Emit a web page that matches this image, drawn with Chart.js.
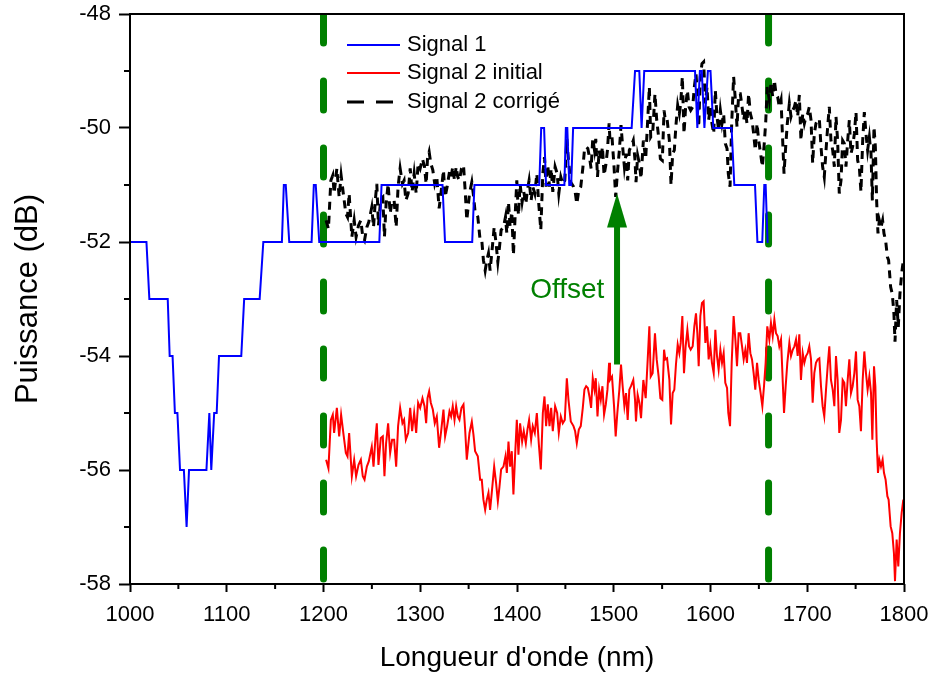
<!DOCTYPE html>
<html>
<head>
<meta charset="utf-8">
<script src="https://cdn.jsdelivr.net/npm/chart.js@4.4.0/dist/chart.umd.min.js"></script>
<style>
  html, body { margin: 0; padding: 0; background: #fff; }
  #wrap { width: 931px; height: 679px; }
</style>
</head>
<body>
<div id="wrap"><canvas id="spectre"></canvas></div>
<script>
// Signal 1 (step-like trace)
const signal1Nm = [1000,1017,1020,1039,1041,1044,1046.4,1049,1051.7,1055.7,1058.5,1061,1079,1082,1084,1087,1089.6,1092,1115,1118,
  1134,1137.8,1157,1159,1161,1164.6,1187.7,1190,1192,1195.6,1257.7,1260,1323,1325.6,1353.7,1356,1423,1425,1428,1430,
  1449,1450.5,1452,1454,1456,1458,1518.5,1522,1526.4,1528.8,1531.5,1584,1586.4,1589,1591,1593.7,1597.3,1600,1602.9,1621.8,
  1624.6,1646,1648.5,1653.5,1655.6,1657,1659,1660];
const signal1Db = [-52,-52,-53,-53,-54,-54,-55,-55,-56,-56,-57,-56,-56,-55,-56,-55,-55,-54,-54,-53,
  -53,-52,-52,-51,-51,-52,-52,-51,-51,-52,-52,-51,-51,-52,-52,-51,-51,-50,-50,-51,
  -51,-50,-50,-51,-51,-50,-50,-49,-49,-50,-49,-49,-50,-49,-49,-50,-49,-49,-50,-50,
  -51,-51,-52,-52,-51,-51,-52,-52];

// Signal 2 : wavelengths shared by the initial and corrected traces
const signal2Nm = [
  1202.7,1205.1,1207.6,1209.6,1211.0,1213.8,1216.2,1218.2,1220.7,1223.1,
  1224.8,1226.5,1229.3,1231.7,1233.7,1236.2,1238.6,1240.6,1242.4,1244.8,
  1246.8,1249.9,1251.7,1253.7,1255.1,1256.8,1259.2,1261.3,1263.0,1264.7,
  1266.8,1268.9,1270.9,1273.0,1275.1,1277.1,1279.2,1281.6,1283.3,1285.1,
  1287.5,1289.6,1291.6,1293.7,1295.8,1297.8,1299.9,1302.3,1304.4,1306.1,
  1307.5,1309.2,1310.9,1313.0,1315.0,1317.1,1319.5,1321.6,1324.0,1325.7,
  1327.8,1330.2,1331.9,1333.6,1335.4,1337.1,1338.8,1340.5,1342.6,1344.7,
  1346.4,1348.1,1350.9,1353.3,1355.0,1356.7,1359.5,1361.9,1363.6,1365.3,
  1367.1,1368.8,1370.5,1372.2,1373.9,1376.4,1378.4,1380.2,1381.9,1383.6,
  1386.0,1388.1,1389.5,1391.2,1392.9,1394.6,1396.3,1398.1,1399.8,1401.5,
  1403.2,1405.3,1407.0,1409.1,1410.8,1412.5,1414.6,1416.3,1418.4,1420.5,
  1422.5,1424.6,1426.7,1428.4,1430.1,1431.8,1433.6,1435.3,1437.0,1439.4,
  1441.5,1443.2,1445.3,1447.3,1449.4,1451.5,1453.2,1455.6,1458.4,1460.1,
  1461.8,1463.9,1465.9,1468.0,1469.7,1471.5,1473.2,1474.9,1476.6,1478.3,
  1480.1,1481.4,1483.2,1484.9,1486.6,1488.3,1490.0,1491.8,1493.5,1495.2,
  1496.1,1498.2,1500.3,1502.0,1503.7,1505.8,1507.5,1509.2,1511.0,1512.7,
  1514.4,1516.1,1517.8,1520.2,1522.0,1523.0,1524.7,1526.5,1528.2,1530.6,
  1533.0,1535.1,1536.8,1538.2,1540.2,1542.6,1544.4,1546.4,1548.2,1550.2,
  1552.0,1553.3,1555.1,1557.5,1559.2,1560.9,1562.6,1564.3,1566.1,1567.8,
  1569.2,1570.9,1572.6,1574.3,1576.1,1577.8,1579.5,1581.6,1583.3,1585.0,
  1586.4,1587.8,1589.5,1591.2,1592.9,1594.7,1596.4,1598.1,1599.8,1601.5,
  1603.3,1605.0,1606.7,1608.4,1610.2,1611.9,1613.6,1615.3,1617.1,1618.4,
  1620.2,1621.9,1623.9,1625.7,1627.4,1629.1,1630.8,1632.6,1634.3,1636.0,
  1637.7,1639.4,1641.2,1642.9,1644.6,1646.3,1648.1,1649.8,1651.8,1653.6,
  1655.3,1657.0,1658.7,1660.8,1662.5,1664.3,1666.0,1667.7,1669.4,1671.1,
  1672.9,1674.6,1676.0,1677.7,1679.4,1681.5,1683.2,1685.0,1686.7,1688.4,
  1690.1,1691.8,1693.5,1695.3,1697.0,1698.7,1700.4,1702.1,1703.9,1705.6,
  1707.3,1709.0,1710.8,1712.5,1714.2,1715.9,1717.6,1719.4,1721.1,1722.8,
  1724.5,1726.3,1728.0,1729.7,1731.4,1733.1,1734.9,1736.6,1738.3,1740.0,
  1741.8,1743.5,1745.2,1746.9,1748.7,1750.4,1752.1,1753.8,1755.5,1757.3,
  1759.0,1760.7,1762.4,1764.2,1765.9,1767.3,1769.0,1770.4,1771.7,1773.1,
  1774.5,1776.2,1777.9,1779.3,1781.0,1782.8,1784.1,1786.2,1787.9,1789.6,
  1790.7,1792.4,1794.1,1795.8,1797.6,1799.3];

const signal2InitialDb = [
  -55.82,-55.97,-55.12,-55.03,-55.35,-54.91,-55.41,-55.03,-55.38,-55.70,
  -55.76,-55.35,-56.11,-55.82,-56.11,-55.91,-55.82,-56.11,-56.17,-55.94,
  -55.85,-55.59,-55.94,-55.44,-55.18,-55.91,-55.44,-55.41,-56.11,-55.53,
  -55.18,-55.70,-55.47,-55.47,-55.94,-55.23,-54.91,-55.18,-55.12,-55.47,
  -55.35,-54.91,-55.32,-55.00,-55.35,-54.82,-54.91,-54.74,-54.88,-55.18,
  -54.74,-54.62,-54.82,-54.94,-55.18,-55.06,-55.61,-55.32,-54.94,-55.41,
  -55.23,-54.97,-55.06,-54.88,-55.12,-54.88,-55.06,-55.12,-54.91,-54.85,
  -55.29,-55.82,-55.35,-55.15,-55.38,-55.67,-55.76,-56.17,-56.17,-56.52,
  -56.70,-56.52,-56.40,-56.70,-56.40,-55.94,-56.23,-56.55,-56.29,-55.99,
  -55.94,-55.76,-56.05,-55.50,-55.94,-55.67,-56.43,-55.73,-55.12,-55.73,
  -55.18,-55.50,-55.32,-55.53,-55.29,-55.12,-55.47,-55.23,-55.35,-55.00,
  -55.53,-55.99,-55.00,-54.71,-55.23,-54.85,-55.23,-54.91,-55.32,-54.88,
  -55.00,-55.35,-55.06,-55.18,-55.12,-54.39,-54.77,-55.15,-55.23,-55.32,
  -55.53,-55.29,-55.23,-54.91,-54.59,-54.53,-54.56,-54.71,-54.91,-54.39,
  -54.59,-54.39,-55.06,-54.59,-54.77,-54.53,-55.03,-54.85,-54.59,-54.12,
  -54.42,-54.36,-54.88,-55.41,-55.00,-54.59,-54.15,-54.53,-54.88,-54.65,
  -55.12,-54.59,-54.53,-54.42,-54.77,-55.15,-54.68,-54.82,-55.09,-54.42,
  -54.74,-54.06,-53.48,-54.36,-54.30,-53.60,-54.06,-54.36,-54.74,-54.77,
  -53.89,-54.06,-54.04,-54.42,-55.20,-54.65,-54.59,-54.15,-53.80,-53.95,
  -53.77,-53.30,-54.30,-53.83,-53.54,-53.83,-53.89,-53.83,-53.48,-53.25,
  -53.60,-54.18,-53.30,-53.07,-53.04,-53.77,-53.48,-54.06,-53.83,-54.12,
  -54.30,-53.54,-54.00,-54.24,-53.89,-54.12,-53.95,-54.47,-54.56,-55.00,
  -55.23,-54.12,-53.30,-53.71,-54.18,-53.60,-53.60,-53.83,-54.06,-53.89,
  -54.12,-53.60,-53.95,-54.06,-54.30,-54.59,-54.12,-54.42,-54.65,-54.88,
  -54.53,-54.12,-53.48,-53.71,-53.42,-53.65,-53.36,-53.60,-53.65,-53.83,
  -53.71,-54.42,-55.00,-54.53,-54.12,-53.77,-54.00,-53.89,-53.83,-53.71,
  -54.00,-53.62,-54.42,-53.95,-54.12,-54.00,-53.95,-53.83,-54.06,-54.82,
  -54.30,-54.12,-54.06,-54.04,-54.53,-54.88,-55.06,-54.59,-54.18,-53.83,
  -54.42,-54.59,-54.88,-54.00,-54.42,-55.35,-55.12,-54.42,-54.47,-54.88,
  -54.42,-54.06,-54.65,-54.53,-54.30,-53.92,-54.77,-54.88,-55.32,-54.42,
  -53.92,-54.30,-54.59,-54.36,-54.65,-55.47,-54.18,-54.53,-55.47,-56.05,
  -55.82,-55.94,-55.82,-56.05,-56.17,-56.46,-56.52,-56.99,-57.11,-57.46,
  -57.95,-57.22,-57.69,-57.11,-56.75,-56.52];

const signal2CorrigeDb = [
  -51.62,-51.77,-50.92,-50.83,-51.15,-50.71,-51.21,-50.83,-51.18,-51.50,
  -51.56,-51.15,-51.91,-51.62,-51.91,-51.71,-51.62,-51.91,-51.97,-51.74,
  -51.65,-51.39,-51.74,-51.24,-50.98,-51.71,-51.24,-51.21,-51.91,-51.33,
  -50.98,-51.50,-51.27,-51.27,-51.74,-51.03,-50.71,-50.98,-50.92,-51.27,
  -51.15,-50.71,-51.12,-50.80,-51.15,-50.62,-50.71,-50.54,-50.68,-50.98,
  -50.54,-50.42,-50.62,-50.74,-50.98,-50.86,-51.41,-51.12,-50.74,-51.21,
  -51.03,-50.77,-50.86,-50.68,-50.92,-50.68,-50.86,-50.92,-50.71,-50.65,
  -51.09,-51.62,-51.15,-50.95,-51.18,-51.47,-51.56,-51.97,-51.97,-52.32,
  -52.50,-52.32,-52.20,-52.50,-52.20,-51.74,-52.03,-52.35,-52.09,-51.79,
  -51.74,-51.56,-51.85,-51.30,-51.74,-51.47,-52.23,-51.53,-50.92,-51.53,
  -50.98,-51.30,-51.12,-51.33,-51.09,-50.92,-51.27,-51.03,-51.15,-50.80,
  -51.33,-51.79,-50.80,-50.51,-51.03,-50.65,-51.03,-50.71,-51.12,-50.68,
  -50.80,-51.15,-50.86,-50.98,-50.92,-50.19,-50.57,-50.95,-51.03,-51.12,
  -51.33,-51.09,-51.03,-50.71,-50.39,-50.33,-50.36,-50.51,-50.71,-50.19,
  -50.39,-50.19,-50.86,-50.39,-50.57,-50.33,-50.83,-50.65,-50.39,-49.92,
  -50.22,-50.16,-50.68,-51.21,-50.80,-50.39,-49.95,-50.33,-50.68,-50.45,
  -50.92,-50.39,-50.33,-50.22,-50.57,-50.95,-50.48,-50.62,-50.89,-50.22,
  -50.54,-49.86,-49.28,-50.16,-50.10,-49.40,-49.86,-50.16,-50.54,-50.57,
  -49.69,-49.86,-49.84,-50.22,-51.00,-50.45,-50.39,-49.95,-49.60,-49.75,
  -49.57,-49.10,-50.10,-49.63,-49.34,-49.63,-49.69,-49.63,-49.28,-49.05,
  -49.40,-49.98,-49.10,-48.87,-48.84,-49.57,-49.28,-49.86,-49.63,-49.92,
  -50.10,-49.34,-49.80,-50.04,-49.69,-49.92,-49.75,-50.27,-50.36,-50.80,
  -51.03,-49.92,-49.10,-49.51,-49.98,-49.40,-49.40,-49.63,-49.86,-49.69,
  -49.92,-49.40,-49.75,-49.86,-50.10,-50.39,-49.92,-50.22,-50.45,-50.68,
  -50.33,-49.92,-49.28,-49.51,-49.22,-49.45,-49.16,-49.40,-49.45,-49.63,
  -49.51,-50.22,-50.80,-50.33,-49.92,-49.57,-49.80,-49.69,-49.63,-49.51,
  -49.80,-49.42,-50.22,-49.75,-49.92,-49.80,-49.75,-49.63,-49.86,-50.62,
  -50.10,-49.92,-49.86,-49.84,-50.33,-50.68,-50.86,-50.39,-49.98,-49.63,
  -50.22,-50.39,-50.68,-49.80,-50.22,-51.15,-50.92,-50.22,-50.27,-50.68,
  -50.22,-49.86,-50.45,-50.33,-50.10,-49.72,-50.57,-50.68,-51.12,-50.22,
  -49.72,-50.10,-50.39,-50.16,-50.45,-51.27,-49.98,-50.33,-51.27,-51.85,
  -51.62,-51.74,-51.62,-51.85,-51.97,-52.26,-52.32,-52.79,-52.91,-53.26,
  -53.75,-53.02,-53.49,-52.91,-52.55,-52.32];

// bornes de la fenetre (lignes vertes) et fleche "Offset"
const windowNm = [1200, 1660];
const offsetArrow = { nm: 1503.4, fromDb: -54.15, toDb: -51.15 };
const offsetLabel = { text: 'Offset', nm: 1452, db: -52.85 };

const xMinorTicks = [1050, 1150, 1250, 1350, 1450, 1550, 1650, 1750];
const yMinorTicks = [-49, -51, -53, -55, -57];

const FONT = "'Liberation Sans', Arial, sans-serif";
const GREEN = '#008000';

function pairs(xs, ys) {
    var out = [];
    for (var i = 0; i < xs.length; i++) {
        out.push({ x: xs[i], y: ys[i] });
    }
    return out;
}

var datasets = [
    { label: 'Signal 1', data: pairs(signal1Nm, signal1Db), borderColor: '#0000ff', borderWidth: 2 },
    { label: 'Signal 2 initial', data: pairs(signal2Nm, signal2InitialDb), borderColor: '#ff0000', borderWidth: 2 },
    { label: 'Signal 2 corrigé', data: pairs(signal2Nm, signal2CorrigeDb), borderColor: '#000000', borderWidth: 3, borderDash: [8, 6] }
];
windowNm.forEach(function(nm) {
    datasets.push({
        label: '',
        data: [{ x: nm, y: -48 }, { x: nm, y: -58 }],
        borderColor: GREEN,
        borderWidth: 7,
        borderDash: [29, 38],
        borderCapStyle: 'round'
    });
});

// minor ticks, frame, in-plot legend, arrow
var decorations = {
    id: 'decorations',
    afterDraw: function(chart) {
        var ctx = chart.ctx;
        var area = chart.chartArea;
        var xs = chart.scales.x, ys = chart.scales.y;
        ctx.save();

        // arrow
        var ax = xs.getPixelForValue(offsetArrow.nm);
        var aBottom = ys.getPixelForValue(offsetArrow.fromDb);
        var aTip = ys.getPixelForValue(offsetArrow.toDb);
        ctx.strokeStyle = GREEN;
        ctx.fillStyle = GREEN;
        ctx.lineWidth = 6;
        ctx.beginPath();
        ctx.moveTo(ax, aBottom);
        ctx.lineTo(ax, aTip + 30);
        ctx.stroke();
        ctx.beginPath();
        ctx.moveTo(ax, aTip);
        ctx.lineTo(ax - 10, aTip + 34);
        ctx.lineTo(ax + 10, aTip + 34);
        ctx.closePath();
        ctx.fill();

        ctx.font = '28px ' + FONT;
        ctx.textAlign = 'center';
        ctx.textBaseline = 'middle';
        ctx.fillText(offsetLabel.text, xs.getPixelForValue(offsetLabel.nm), ys.getPixelForValue(offsetLabel.db));

        // frame
        ctx.strokeStyle = '#000';
        ctx.lineWidth = 2;
        ctx.strokeRect(area.left, area.top, area.right - area.left, area.bottom - area.top);

        // minor ticks
        ctx.beginPath();
        xMinorTicks.forEach(function(v) {
            var p = xs.getPixelForValue(v);
            ctx.moveTo(p, area.bottom);
            ctx.lineTo(p, area.bottom + 5);
        });
        yMinorTicks.forEach(function(v) {
            var p = ys.getPixelForValue(v);
            ctx.moveTo(area.left, p);
            ctx.lineTo(area.left - 6, p);
        });
        ctx.stroke();

        // legend
        var rows = [45, 73, 102];
        ctx.font = '22px ' + FONT;
        ctx.textAlign = 'left';
        ctx.fillStyle = '#000';
        for (var i = 0; i < 3; i++) {
            var ds = chart.data.datasets[i];
            ctx.strokeStyle = ds.borderColor;
            ctx.lineWidth = ds.borderWidth;
            ctx.setLineDash(ds.borderDash ? [17, 12] : []);
            ctx.beginPath();
            ctx.moveTo(347, rows[i]);
            ctx.lineTo(400, rows[i]);
            ctx.stroke();
            ctx.setLineDash([]);
            ctx.fillText(ds.label, 407, rows[i]);
        }
        ctx.restore();
    }
};

var ctx = document.getElementById('spectre').getContext('2d');
new Chart(ctx, {
    type: 'line',
    data: { datasets: datasets },
    options: {
        responsive: true,
        maintainAspectRatio: false,
        animation: false,
        layout: { padding: { top: 14, right: 27, left: 0, bottom: 0 } },
        elements: {
            point: { radius: 0 },
            line: { tension: 0, fill: false }
        },
        plugins: {
            legend: { display: false },
            tooltip: { enabled: false }
        },
        scales: {
            x: {
                type: 'linear',
                min: 1000,
                max: 1800,
                border: { display: false },
                grid: { drawOnChartArea: false, tickLength: 8, tickWidth: 2, tickColor: '#000' },
                ticks: {
                    stepSize: 100, color: '#000', padding: 10, maxRotation: 0,
                    font: { family: FONT, size: 22 },
                    callback: function(v) { return String(v); }
                },
                title: { display: true, text: "Longueur d'onde (nm)", color: '#000', font: { family: FONT, size: 28 }, padding: { top: 0, bottom: 4 } },
                afterFit: function(scale) {
                    scale.height = 95;
                    scale.paddingLeft = 0;
                    scale.paddingRight = 0;
                }
            },
            y: {
                type: 'linear',
                min: -58,
                max: -48,
                border: { display: false },
                grid: { drawOnChartArea: false, tickLength: 11, tickWidth: 2, tickColor: '#000' },
                ticks: {
                    stepSize: 2, color: '#000', padding: 8,
                    font: { family: FONT, size: 22 },
                    callback: function(v) { return String(v); }
                },
                title: { display: true, text: 'Puissance (dB)', color: '#000', font: { family: FONT, size: 31 }, padding: { top: 10, bottom: 0 } },
                afterFit: function(scale) {
                    scale.width = 130;
                    scale.paddingTop = 0;
                    scale.paddingBottom = 0;
                }
            }
        }
    },
    plugins: [decorations]
});
</script>
</body>
</html>
